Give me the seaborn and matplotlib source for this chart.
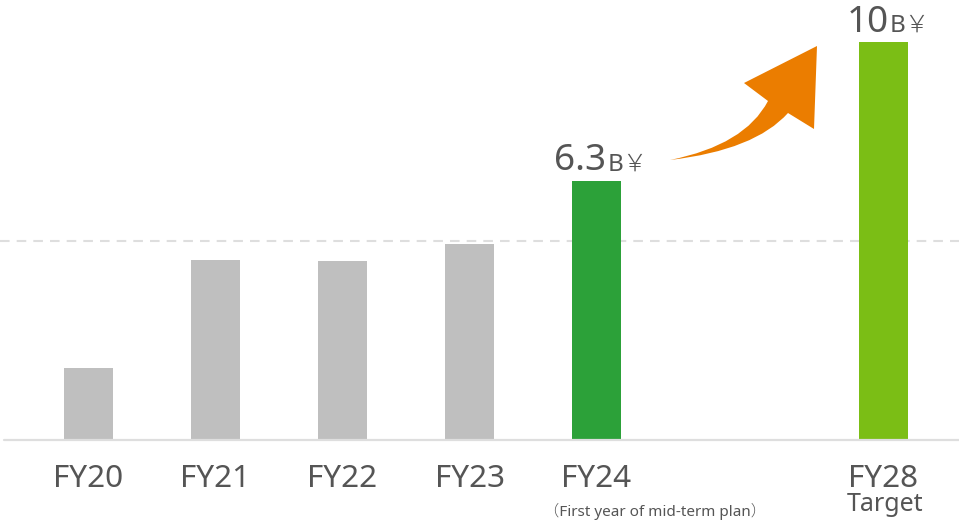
import matplotlib
matplotlib.use("Agg")
import matplotlib.pyplot as plt
import seaborn as sns
import pandas as pd
from matplotlib.path import Path
from matplotlib.patches import PathPatch

# ---- data ----
categories = ["FY20", "FY21", "FY22", "FY23", "FY24", "FY28"]
values = [1.80, 4.52, 4.50, 4.92, 6.51, 10.0]
value_labels = {"FY24": "6.3", "FY28": "10"}
unit_label = "B￥"
sub_labels = {"FY24": "（First year of mid-term plan）", "FY28": "Target"}
reference_level = 5.0

# ---- layout / style ----
slots = [0, 1, 2, 3, 4, 6.26]
bar_colors = ["#BFBFBF", "#BFBFBF", "#BFBFBF", "#BFBFBF", "#2CA139", "#7BBE15"]
text_color = "#555555"
line_color = "#DEDEDE"
arrow_color = "#EB7D00"
W, H = 959, 524

sns.set_style("white")
plt.rcParams["font.family"] = ["Noto Sans", "Noto Sans CJK JP", "DejaVu Sans"]
plt.rcParams["font.weight"] = "light"

df = pd.DataFrame({"category": categories, "value": values, "pos": slots})

fig = plt.figure(figsize=(W / 100, H / 100), dpi=100)
ax = fig.add_axes([0, 84 / H, 1, 440 / H])

sns.barplot(data=df, x="pos", y="value", hue="category", palette=bar_colors,
            native_scale=True, width=0.386, dodge=False, legend=False,
            saturation=1, linewidth=0, ax=ax)

ax.set_xlim(-88.5 / 127, (W - 88.5) / 127)
ax.set_ylim(0, 440 / 39.8)
for s in ax.spines.values():
    s.set_visible(False)
ax.set_yticks([])
ax.set_ylabel("")
ax.set_xlabel("")
ax.set_xticks(slots, categories)
ax.tick_params(axis="x", length=0, pad=17, labelsize=22.7, labelcolor=text_color)

# baseline and reference line
ax.axhline(0, xmin=4 / W, xmax=1, color=line_color, lw=1.6, clip_on=False, zorder=3)
ax.axhline(reference_level, color=line_color, lw=1.5, ls=(0, (4.6, 3.4)), zorder=0)

# value labels
fig.canvas.draw()
renderer = fig.canvas.get_renderer()
for cat, txt in value_labels.items():
    i = categories.index(cat)
    x, y = slots[i], values[i]
    num = ax.annotate(txt, xy=(x, y), xytext=(0, 7.5), textcoords="offset points",
                      ha="left", va="baseline", fontsize=26.5, color=text_color)
    unit = ax.annotate(unit_label, xy=(x, y), xytext=(0, 7.5), textcoords="offset points",
                       ha="left", va="baseline", fontsize=17.5, color=text_color)
    wn = num.get_window_extent(renderer).width
    wu = unit.get_window_extent(renderer).width
    start = -(wn + wu) / 2 + 4
    num.set_position((start * 0.72, 7.5))
    unit.set_position(((start + wn + 1) * 0.72, 7.5))

# sub labels under ticks
sub_style = {"FY24": dict(dx=58, dy=-55, size=11), "FY28": dict(dx=2, dy=-51, size=18)}
for cat, txt in sub_labels.items():
    i = categories.index(cat)
    st = sub_style[cat]
    ax.annotate(txt, xy=(slots[i], 0), xytext=(st["dx"] * 0.72, st["dy"]),
                textcoords="offset points", ha="center", va="baseline",
                fontsize=st["size"], color=text_color, annotation_clip=False)

# curved orange arrow (decoration)
def P(x, y):
    return (x / W, 1 - y / H)

verts = [P(670, 160), P(745, 145), P(768, 101), P(744, 83), P(817, 46),
         P(814, 129), P(788, 113), P(755, 150), P(670, 160), P(670, 160)]
codes = [Path.MOVETO, Path.CURVE3, Path.CURVE3, Path.LINETO, Path.LINETO,
         Path.LINETO, Path.LINETO, Path.CURVE3, Path.CURVE3, Path.CLOSEPOLY]
fig.patches.append(PathPatch(Path(verts, codes), transform=fig.transFigure,
                             facecolor=arrow_color, edgecolor="none", zorder=5))

fig.savefig("out.png", dpi=100)
